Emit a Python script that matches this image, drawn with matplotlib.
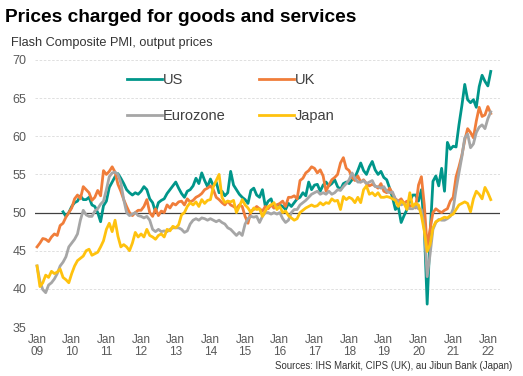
import numpy as np
import matplotlib
matplotlib.use("Agg")
import matplotlib.pyplot as plt

plt.rcParams['font.family'] = ['Liberation Sans', 'DejaVu Sans']

# monthly values, Jan 2009 .. Feb 2022 (US starts Oct 2009)
us = [50.1, 49.5, 50.0,
      50.8, 51.3, 51.5, 52.2, 51.7, 51.7, 52.0, 51.0, 50.8, 50.0, 48.8, 50.9,
      51.5, 53.3, 54.0, 54.7, 55.1, 54.5, 53.8, 53.0, 52.6, 52.3, 52.6, 52.4,
      52.8, 53.4, 53.0, 51.8, 51.3, 50.1, 51.3, 51.6, 51.8, 52.5, 53.0, 53.5,
      54.0, 53.2, 52.5, 52.0, 52.8, 53.0, 53.5, 54.5, 53.8, 55.2, 54.2, 53.4,
      54.4, 53.5, 54.0, 52.6, 52.8, 52.2, 52.6, 55.4, 53.6, 53.0, 52.4, 52.0,
      51.7, 51.2, 52.9, 53.2, 52.3, 52.0, 53.0, 50.8, 51.5, 51.8, 50.6, 51.0,
      51.0, 50.8, 50.4, 51.2, 50.8, 51.3, 51.8, 52.0, 52.6, 52.2, 54.0, 53.0,
      53.6, 53.7, 52.8, 53.6, 54.0, 53.5, 53.8, 54.3, 53.4, 53.0, 53.8, 54.0,
      53.8, 54.3, 54.6, 55.5, 56.5, 55.5, 55.0, 56.0, 56.7, 55.6, 55.0, 55.4,
      54.6, 54.3, 53.2, 52.0, 50.4, 50.8, 48.7, 49.6, 50.4, 51.5, 52.3, 52.3,
      51.5, 53.0, 48.0, 38.0, 47.0, 54.1, 54.8, 53.5, 55.8, 52.8, 59.2, 58.3,
      58.7, 58.6, 61.5, 64.0, 66.8, 64.8, 64.4, 64.8, 63.8, 66.5, 68.0, 67.2,
      66.6, 68.5]

uk = [45.5, 46.0, 46.6, 46.5, 46.2, 46.8, 47.2, 47.0, 48.3, 48.6, 49.4, 50.0,
      50.6, 51.8, 52.3, 51.8, 53.4, 53.0, 52.6, 51.6, 52.0, 52.9, 52.2, 55.5,
      55.0, 55.4, 56.0, 55.3, 53.7, 52.8, 51.7, 50.8, 50.0, 49.6, 50.0, 50.3,
      50.3, 50.8, 51.7, 50.0, 49.5, 50.5, 49.6, 50.2, 50.0, 51.0, 50.6, 51.2,
      51.0, 51.4, 51.5, 51.0, 51.8, 51.4, 51.6, 52.0, 52.2, 52.5, 53.0, 53.2,
      53.5, 53.0, 52.0, 51.7, 51.3, 51.0, 51.5, 51.0, 50.8, 50.5, 51.0, 50.8,
      49.5, 48.6, 50.2, 50.4, 50.8, 50.5, 50.2, 50.8, 50.5, 51.0, 50.6, 51.0,
      51.2, 51.5, 50.8, 52.0, 52.0, 52.2, 51.8, 54.2, 54.5, 55.2, 55.5, 56.0,
      55.8, 55.2, 55.6, 54.8, 52.8, 53.6, 54.3, 54.6, 55.0, 56.5, 57.2, 55.8,
      55.5, 54.6, 54.2, 54.8, 54.0, 54.3, 53.8, 53.5, 53.7, 53.5, 53.2, 53.8,
      52.8, 52.6, 53.2, 52.5, 51.8, 51.5, 51.8, 51.2, 51.5, 50.8, 51.0, 50.6,
      53.6, 54.7, 51.0, 45.5, 47.8, 50.0, 50.5, 50.2, 50.0, 50.3, 50.5, 51.5,
      52.0, 54.7, 56.0, 57.5, 59.5, 61.0, 60.5, 59.8, 62.0, 63.8, 62.6, 62.8,
      63.9, 63.0]

ez = [43.0, 41.0, 39.9, 39.5, 40.5, 40.8, 41.3, 42.0, 43.0, 43.5, 44.2, 45.5,
      46.0, 46.5, 47.2, 49.0, 50.3, 49.7, 49.5, 49.5, 50.2, 50.5, 51.1, 51.5,
      53.0, 54.7, 55.2, 55.3, 55.0, 53.9, 51.7, 50.0, 49.6, 49.8, 50.0, 49.6,
      49.5, 49.3, 49.5, 49.0, 47.8, 47.5, 47.8, 47.5, 47.6, 47.5, 47.8, 48.0,
      48.0, 48.0, 47.8, 47.4, 47.6, 48.5, 49.0, 49.2, 49.0, 49.3, 49.2, 49.0,
      49.2, 49.0, 48.8, 49.0, 48.7, 48.5, 48.0, 47.8, 47.4, 47.0, 47.4, 47.0,
      48.5, 49.2, 49.5, 49.4, 49.5, 48.7, 49.5, 50.0, 50.0, 49.8, 50.0, 49.8,
      50.0, 49.2, 48.7, 49.0, 50.0, 50.4, 50.4, 51.0, 51.3, 51.6, 52.0, 52.4,
      52.6, 52.8, 52.4, 52.6, 52.4, 52.8, 52.4, 52.6, 53.0, 52.9, 53.4, 53.8,
      54.3, 55.2, 54.5, 54.0, 54.0, 54.2, 53.8, 54.0, 54.2, 53.4, 53.4, 53.2,
      53.4, 52.8, 52.6, 52.7, 51.7, 51.5, 51.0, 51.2, 50.8, 50.5, 50.5, 50.8,
      50.5, 50.4, 48.0, 41.6, 44.5, 47.8, 48.7, 49.1, 49.0, 49.0, 49.2, 49.5,
      50.5, 53.0, 55.2, 57.3, 59.8, 60.3, 58.5, 59.0, 60.5, 61.2, 61.5, 61.0,
      62.3, 63.2]

jp = [43.0, 40.3, 40.8, 41.8, 41.5, 42.3, 42.0, 42.2, 42.6, 41.5, 41.2, 40.8,
      42.0, 43.0, 43.7, 44.0, 44.3, 45.0, 45.2, 44.4, 44.6, 44.8, 45.5, 46.3,
      47.8, 48.6, 47.5, 49.0, 46.9, 45.5, 45.8, 45.5, 45.0, 46.0, 47.4, 46.8,
      47.2, 46.8, 47.8, 47.0, 46.8, 46.5, 47.0, 47.2, 46.8, 47.8, 47.6, 48.2,
      48.0, 48.4, 49.7, 50.0, 50.8, 51.3, 51.0, 51.4, 50.8, 51.7, 51.2, 51.6,
      51.7, 53.4, 54.2, 55.0, 52.0, 51.3, 51.5, 51.4, 51.6, 50.0, 50.8, 51.7,
      51.0, 50.6, 50.0, 50.6, 50.4, 50.5, 49.5, 50.2, 50.8, 51.0, 51.3, 50.4,
      50.8, 50.0, 50.2, 49.6, 49.3, 49.0, 49.2, 50.0, 50.3, 50.6, 50.8, 51.0,
      50.8, 50.9, 51.3, 51.0, 51.3, 51.2, 51.8, 51.5, 51.6, 50.4, 52.1, 51.7,
      52.0, 51.8, 51.3, 52.0, 51.3, 53.0, 53.5, 52.4, 52.6, 52.2, 52.6, 52.0,
      52.0, 52.1, 52.0, 51.8, 51.6, 50.8, 51.5, 51.2, 50.4, 52.6, 50.8, 51.2,
      51.0, 49.6, 47.6, 44.9, 45.8, 48.0, 48.8, 49.0, 49.2, 49.4, 49.3, 49.6,
      49.8, 50.4, 51.0, 51.2, 51.4, 51.2, 50.1, 51.8, 52.8, 52.4, 51.8, 53.3,
      52.6, 51.7]

years = ['09', '10', '11', '12', '13', '14', '15', '16', '17', '18', '19', '20', '21', '22']

m_all = np.arange(len(uk))
m_us = np.arange(len(uk) - len(us), len(uk))

fig = plt.figure(figsize=(5.23, 3.76), dpi=100)
ax = fig.add_axes([35 / 523, 1 - 327 / 376, 465 / 523, 267 / 376])

l_us, = ax.plot(m_us, us, color='#00968A', lw=2.0, label='US', zorder=3)
l_uk, = ax.plot(m_all, uk, color='#F07D3A', lw=2.0, label='UK', zorder=3)
l_ez, = ax.plot(m_all, ez, color='#A6A6A6', lw=2.0, label='Eurozone', zorder=3)
l_jp, = ax.plot(m_all, jp, color='#FFC20E', lw=2.0, label='Japan', zorder=3)

ax.axhline(50, color='#404040', lw=0.9, zorder=2)

ax.set_ylim(35, 70)
ax.set_xlim(-0.7, 160.2)
ax.set_yticks(range(35, 71, 5))
ax.set_xticks(range(0, 157, 12))
ax.set_xticklabels(['Jan\n' + y for y in years])
ax.yaxis.grid(True, color='#DADADA', ls=(0, (3, 2)), lw=0.6)
ax.set_axisbelow(True)
for s in ax.spines.values():
    s.set_visible(False)
ax.tick_params(axis='y', length=0, pad=6, labelsize=9, labelcolor='#595959')
ax.tick_params(axis='x', length=0, pad=5, labelsize=8.5, labelcolor='#595959')
for lab in ax.get_xticklabels():
    lab.set_linespacing(1.0)

# legend filled column by column: US/Eurozone, UK/Japan
ax.legend([l_us, l_ez, l_uk, l_jp], ['US', 'Eurozone', 'UK', 'Japan'],
          loc='upper left', bbox_to_anchor=(127 / 523, 1 - 73 / 376),
          bbox_transform=fig.transFigure, ncol=2, frameon=False,
          fontsize=10.5, handlelength=2.4, handletextpad=0.05,
          columnspacing=2.3, labelspacing=1.5, borderaxespad=0,
          borderpad=0, labelcolor='#404040')

fig.text(5 / 523, 1 - 17 / 376, 'Prices charged for goods and services',
         fontsize=13.8, fontweight='bold', va='center', ha='left', color='black')
fig.text(11 / 523, 1 - 43 / 376, 'Flash Composite PMI, output prices',
         fontsize=9.2, va='center', ha='left', color='#333333')
fig.text(512 / 523, 1 - 366 / 376, 'Sources: IHS Markit, CIPS (UK), au Jibun Bank (Japan)',
         fontsize=6.9, va='center', ha='right', color='#333333')

fig.savefig('out.png', dpi=100)
